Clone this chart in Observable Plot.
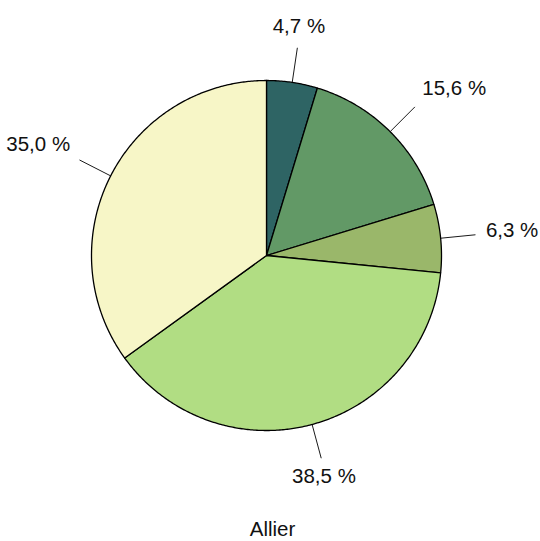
<!DOCTYPE html>
<html>
<head>
<meta charset="utf-8">
<script src="https://cdn.jsdelivr.net/npm/d3@7"></script>
<script src="https://cdn.jsdelivr.net/npm/@observablehq/plot@0.6"></script>
<style>
  html, body { margin: 0; padding: 0; background: #fff; }
</style>
</head>
<body>
<div id="chart"></div>
<script>
const labels = ["4,7 %", "15,6 %", "6,3 %", "38,5 %", "35,0 %"];
const shares = [4.7, 15.6, 6.3, 38.5, 35.0];
const colors = ["#2E6464", "#629966", "#9AB76A", "#B1DD83", "#F7F6C7"];
const title = "Allier";

const total = d3.sum(shares);
let acc = 0;
const slices = shares.map((v, i) => {
  const a0 = acc / total * 2 * Math.PI;
  acc += v;
  const a1 = acc / total * 2 * Math.PI;
  return {i, v, a0, a1, mid: (a0 + a1) / 2, label: labels[i], color: colors[i]};
});

// polygon outline for each slice (centre -> arc -> centre)
const outline = [];
for (const s of slices) {
  outline.push({i: s.i, x: 0, y: 0, color: s.color});
  const n = Math.max(2, Math.ceil((s.a1 - s.a0) / (Math.PI / 360)));
  for (let k = 0; k <= n; k++) {
    const a = s.a0 + (s.a1 - s.a0) * k / n;
    outline.push({i: s.i, x: Math.sin(a), y: Math.cos(a), color: s.color});
  }
  outline.push({i: s.i, x: 0, y: 0, color: s.color});
}

const leaders = slices.map(s => ({
  x1: Math.sin(s.mid), y1: Math.cos(s.mid),
  x2: 1.2 * Math.sin(s.mid), y2: 1.2 * Math.cos(s.mid)
}));

const rt = 1.26;
const labelPts = slices.map(s => {
  const sn = Math.sin(s.mid), cs = Math.cos(s.mid);
  return {
    x: rt * sn, y: rt * cs, label: s.label,
    h: Math.abs(sn) < 0.3 ? "middle" : (sn > 0 ? "start" : "end"),
    v: cs > 0.3 ? "bottom" : (cs < -0.3 ? "top" : "middle")
  };
});

const shiftY = {top: 0, middle: -3, bottom: -4};
const textMarks = [];
for (const h of ["start", "middle", "end"]) {
  for (const v of ["top", "middle", "bottom"]) {
    const sub = labelPts.filter(d => d.h === h && d.v === v);
    if (sub.length) {
      textMarks.push(Plot.text(sub, {
        x: "x", y: "y", text: "label",
        textAnchor: h, lineAnchor: v, dy: shiftY[v],
        fontSize: 20.5, fill: "#111"
      }));
    }
  }
}

const chart = Plot.plot({
  width: 540,
  height: 541,
  margin: 0,
  x: {domain: [-266 / 175, 274 / 175], axis: null},
  y: {domain: [-286 / 175, 255 / 175], axis: null},
  color: {type: "identity"},
  style: {fontFamily: "'Liberation Sans', Arial, sans-serif", background: "#fff"},
  marks: [
    Plot.line(outline, {x: "x", y: "y", z: "i", fill: "color", stroke: "#000", strokeWidth: 1.3, strokeLinejoin: "round"}),
    Plot.link(leaders, {x1: "x1", y1: "y1", x2: "x2", y2: "y2", stroke: "#000", strokeWidth: 0.9}),
    ...textMarks,
    Plot.text([title], {x: 6 / 175, y: -274 / 175, text: d => d, fontSize: 20.5, fill: "#111", lineAnchor: "middle"})
  ]
});
document.getElementById("chart").appendChild(chart);
</script>
</body>
</html>
